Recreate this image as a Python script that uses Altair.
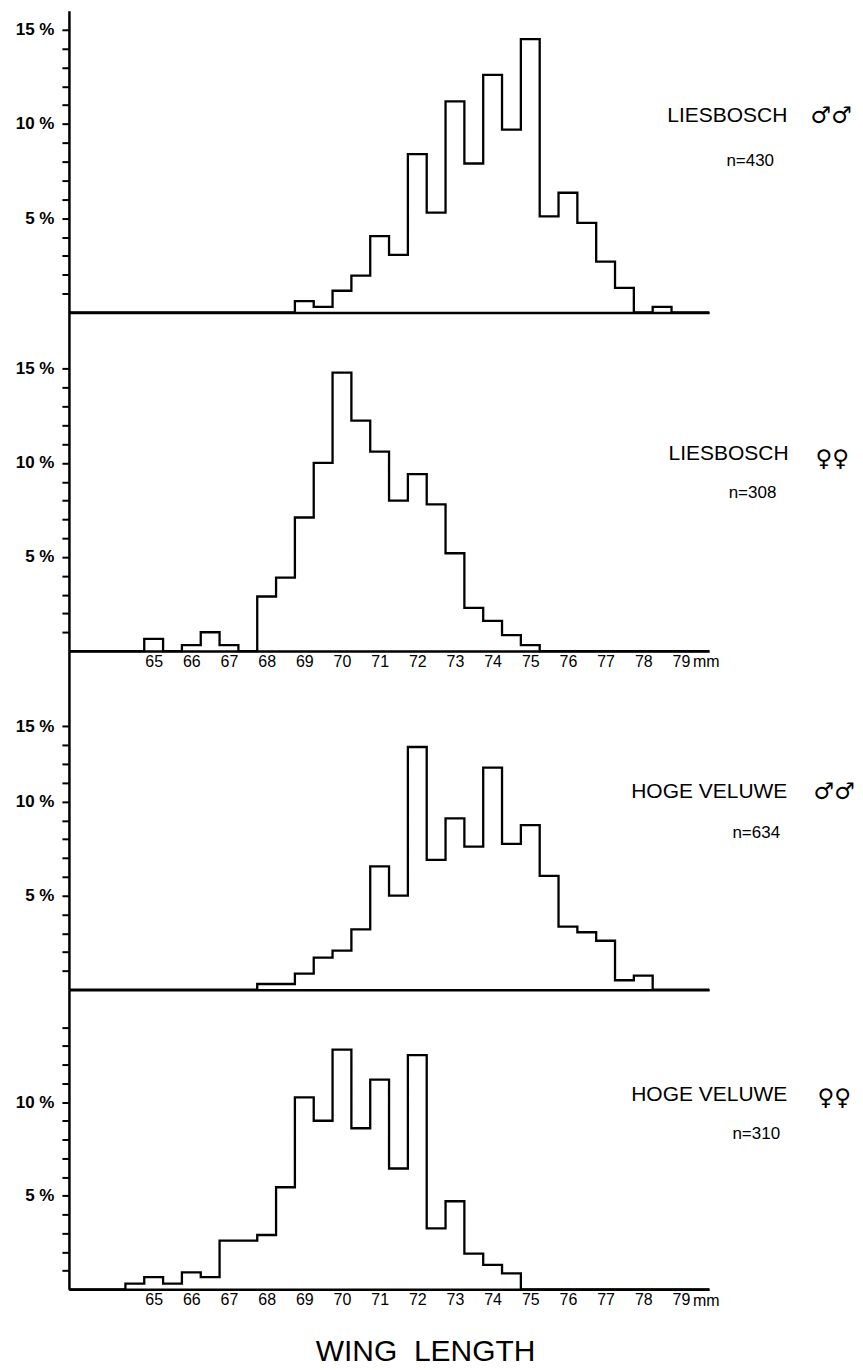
import altair as alt
import pandas as pd

# ---------------- data (percent of birds per 0.5 mm wing-length class) ----------------
X_MIN, X_MAX = 62.75, 79.75
BIN = 0.5
X_TICKS = list(range(65, 80))

# Liesbosch males, n=430 : classes 69.0 ... 78.5
lb_m_first = 69.0
lb_m = [0.6, 0.3, 1.15, 1.95, 4.05, 3.05, 8.4, 5.3, 11.2, 7.9,
        12.6, 9.7, 14.5, 5.1, 6.35, 4.75, 2.7, 1.3, 0.0, 0.3]

# Liesbosch females, n=308 : classes 65.0 ... 75.0
lb_f_first = 65.0
lb_f = [0.65, 0.0, 0.32, 1.0, 0.32, 0.0, 2.9, 3.9, 7.1, 10.0,
        14.8, 12.25, 10.6, 8.0, 9.4, 7.8, 5.2, 2.3, 1.6, 0.85, 0.32]

# Hoge Veluwe males, n=634 : classes 68.0 ... 78.0
hv_m_first = 68.0
hv_m = [0.3, 0.3, 0.85, 1.7, 2.07, 3.2, 6.55, 5.0, 12.9, 6.9,
        9.1, 7.6, 11.8, 7.75, 8.75, 6.05, 3.35, 3.05, 2.6, 0.5, 0.75]

# Hoge Veluwe females, n=310 : classes 64.5 ... 74.5
hv_f_first = 64.5
hv_f = [0.3, 0.65, 0.3, 0.9, 0.65, 2.6, 2.6, 2.9, 5.45, 10.25,
        9.0, 12.8, 8.6, 11.2, 6.45, 12.5, 3.25, 4.7, 1.9, 1.3, 0.85]

place_names = ["LIESBOSCH", "LIESBOSCH", "HOGE VELUWE", "HOGE VELUWE"]
sex_symbols = ["\u2642\u2642", "\u2640\u2640", "\u2642\u2642", "\u2640\u2640"]
n_texts = ["n=430", "n=308", "n=634", "n=310"]

FONT = "Liberation Sans"
SYM_FONT = "DejaVu Sans"


def step_df(first, vals):
    xs, ys = [X_MIN], [0.0]
    for i, v in enumerate(vals):
        xs.append(first - BIN / 2 + i * BIN)
        ys.append(v)
    xs.append(first - BIN / 2 + len(vals) * BIN)
    ys.append(0.0)
    xs.append(X_MAX)
    ys.append(0.0)
    return pd.DataFrame({"x": xs, "y": ys, "order": list(range(len(xs)))})


def label_expr(mapping):
    expr = "''"
    for k, v in sorted(mapping.items(), reverse=True):
        expr = f"datum.value == {k} ? '{v}' : ({expr})"
    return expr


def panel(first, vals, ymax, height, yticks, ylabels, show_x, name, sym, ntext,
          name_pos, sym_pos, n_pos, extra=None):
    xscale = alt.Scale(domain=[X_MIN, X_MAX], nice=False, zero=False)
    yscale = alt.Scale(domain=[0, ymax], nice=False, zero=True)
    xaxis = alt.Axis(values=X_TICKS, labels=show_x, ticks=False, grid=False, title=None,
                     domainWidth=2.5, domainColor="black", labelFont=FONT,
                     labelFontSize=16, labelPadding=2, labelColor="black",
                     labelExpr="datum.value")
    yaxis = alt.Axis(values=yticks, labelExpr=label_expr(ylabels), tickSize=7, tickWidth=2,
                     tickColor="black", labelPadding=8, title=None, grid=False,
                     domainWidth=2.5, domainColor="black", labelFont=FONT,
                     labelFontSize=17, labelFontWeight="bold", labelColor="black")
    line = alt.Chart(step_df(first, vals)).mark_line(
        interpolate="step-after", color="black", strokeWidth=2.3
    ).encode(
        x=alt.X("x:Q", scale=xscale, axis=xaxis),
        y=alt.Y("y:Q", scale=yscale, axis=yaxis),
        order="order:Q",
    )

    def txt(x, y, t, size, align, font=FONT):
        return alt.Chart(pd.DataFrame({"x": [x], "y": [y], "t": [t]})).mark_text(
            align=align, baseline="middle", fontSize=size, font=font,
            color="black"
        ).encode(
            x=alt.X("x:Q", scale=xscale, axis=xaxis),
            y=alt.Y("y:Q", scale=yscale, axis=yaxis),
            text="t:N",
        )

    layers = [line,
              txt(name_pos[0], name_pos[1], name, 21, "left"),
              txt(sym_pos[0], sym_pos[1], sym, 23, "center", SYM_FONT),
              txt(n_pos[0], n_pos[1], ntext, 17, "center")]
    if extra:
        for e in extra:
            layers.append(txt(*e))
    return alt.layer(*layers).properties(width=641, height=height)


p1 = panel(lb_m_first, lb_m, 16, 302, list(range(1, 16)),
           {5: "5 %", 10: "10 %", 15: "15 %"}, False,
           place_names[0], sex_symbols[0], n_texts[0],
           (78.64, 10.4), (82.99, 10.4), (80.84, 8.05))
p2 = panel(lb_f_first, lb_f, 18, 339, list(range(1, 16)),
           {5: "5 %", 10: "10 %", 15: "15 %"}, True,
           place_names[1], sex_symbols[1], n_texts[1],
           (78.67, 10.46), (83.02, 10.2), (80.9, 8.4),
           extra=[(79.32, -0.6, "mm", 16, "left")])
p3 = panel(hv_m_first, hv_m, 18, 339, list(range(1, 15)),
           {5: "5 %", 10: "10 %", 14: "15 %"}, False,
           place_names[2], sex_symbols[2], n_texts[2],
           (77.68, 10.5), (83.07, 10.5), (81.0, 8.34))
p4 = panel(hv_f_first, hv_f, 16, 300, list(range(1, 15)),
           {5: "5 %", 10: "10 %"}, True,
           place_names[3], sex_symbols[3], n_texts[3],
           (77.68, 10.35), (83.07, 10.2), (81.0, 8.27),
           extra=[(79.32, -0.6, "mm", 16, "left"),
                  (72.22, -3.36, "WING\u00a0\u00a0LENGTH", 30, "center")])

chart = alt.vconcat(p1, p2, p3, p4, spacing=0, bounds="flush").properties(
    padding={"left": 7, "top": 2, "right": 0, "bottom": 5},
    background="white",
).configure_view(stroke=None)

chart.save("out.html", embed_options={"renderer": "svg", "actions": False})
